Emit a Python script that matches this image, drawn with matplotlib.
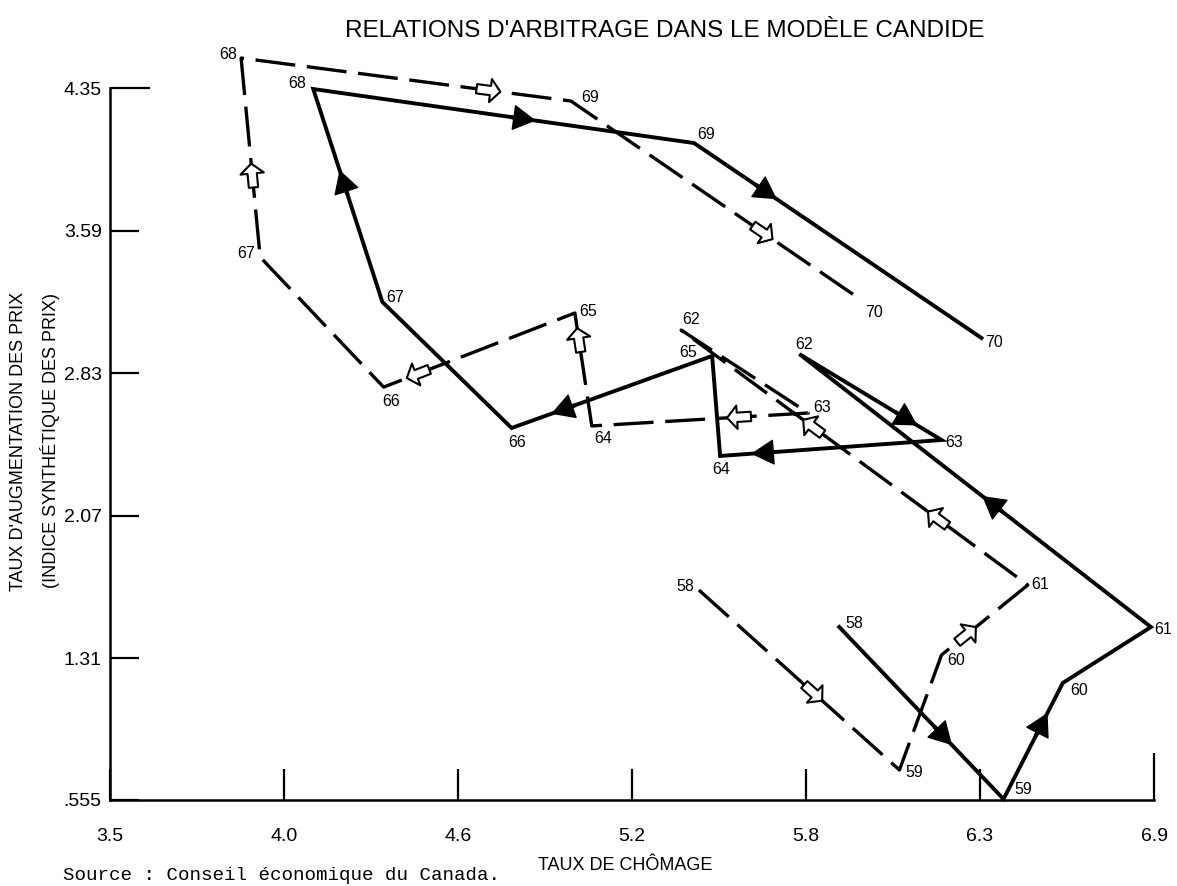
import numpy as np
import matplotlib
matplotlib.use("Agg")
import matplotlib.pyplot as plt
from matplotlib.patches import FancyArrowPatch

police = "Liberation Sans"

annees = ["58", "59", "60", "61", "62", "63", "64", "65", "66", "67", "68", "69", "70"]

# trait plein (fleches noires)
chom_plein = [5.875, 6.410, 6.603, 6.890, 5.745, 6.208, 5.487, 5.461, 4.808, 4.387, 4.162, 5.402, 6.338]
prix_plein = [1.477, 0.560, 1.179, 1.477, 2.932, 2.474, 2.389, 2.922, 2.538, 3.210, 4.345, 4.057, 3.018]

# tirets (fleches blanches)
chom_tirets = [5.418, 6.071, 6.208, 6.489, 5.360, 5.774, 5.069, 5.014, 4.391, 3.989, 3.927, 5.001, 5.947]
prix_tirets = [1.674, 0.715, 1.328, 1.701, 3.060, 2.618, 2.549, 3.151, 2.756, 3.449, 4.510, 4.281, 3.220]

# fleches : (segment, position le long du segment)
fleches_plein = [(0, 0.63), (1, 0.64), (3, 0.45), (4, 0.75), (5, 0.80), (7, 0.74), (9, 0.56), (10, 0.55), (11, 0.25)]
fleches_tirets = [(0, 0.57), (2, 0.29), (3, 0.26), (3, 0.62), (5, 0.32), (6, 0.76), (7, 0.82), (9, 0.41), (10, 0.75), (11, 0.66)]

# decalage des etiquettes (pixels, y vers le bas)
decal_plein = [(15, -4), (20, -10), (16, 8), (12, 2), (5, -10), (13, 2), (1, 14), (-24, -3), (5, 14), (13, -4), (-16, -6), (12, -9), (13, 5)]
decal_tirets = [(-14, -4), (15, 3), (15, 6), (12, -1), (10, -11), (14, -5), (11, 13), (13, -2), (8, 14), (-14, -4), (-13, -4), (19, -4), (13, 12)]

yticks = [0.555, 1.31, 2.07, 2.83, 3.59, 4.35]
ytick_labels = [".555", "1.31", "2.07", "2.83", "3.59", "4.35"]
xticks = np.linspace(3.5, 6.9, 7)
xtick_labels = ["3.5", "4.0", "4.6", "5.2", "5.8", "6.3", "6.9"]

fig = plt.figure(figsize=(11.77, 8.86), dpi=100)
ax = fig.add_axes([110 / 1177, 1 - 800 / 886, 1044 / 1177, 750 / 886])
ax.set_xlim(3.5, 6.9)
ax.set_ylim(0.555, 4.553)

ax.plot(chom_plein, prix_plein, color="black", lw=2.8, solid_joinstyle="miter", zorder=3, clip_on=False)
ax.plot(chom_tirets, prix_tirets, color="black", lw=2.4, linestyle=(0, (12, 3.5)),
        dash_capstyle="butt", zorder=3, clip_on=False)


def fleche(xs, ys, i, t, pleine, L=24):
    d0 = ax.transData.transform((xs[i], ys[i]))
    d1 = ax.transData.transform((xs[i + 1], ys[i + 1]))
    v = d1 - d0
    u = v / np.hypot(*v)
    c = d0 + t * v
    inv = ax.transData.inverted()
    a = inv.transform(c - u * L / 2)
    b = inv.transform(c + u * L / 2)
    if pleine:
        style = "simple,head_length=0.75,head_width=0.85,tail_width=0.1"
        p = FancyArrowPatch(a, b, arrowstyle=style, mutation_scale=20, fc="black", ec="black",
                            lw=1, shrinkA=0, shrinkB=0, zorder=5, clip_on=False)
    else:
        style = "simple,head_length=0.45,head_width=1.05,tail_width=0.42"
        p = FancyArrowPatch(a, b, arrowstyle=style, mutation_scale=16, fc="white", ec="black",
                            lw=1.5, shrinkA=0, shrinkB=0, zorder=5, clip_on=False)
    ax.add_patch(p)


for i, t in fleches_plein:
    fleche(chom_plein, prix_plein, i, t, True)
for i, t in fleches_tirets:
    fleche(chom_tirets, prix_tirets, i, t, False)

for k, a in enumerate(annees):
    dx, dy = decal_plein[k]
    ax.annotate(a, (chom_plein[k], prix_plein[k]), xytext=(dx, -dy), textcoords="offset pixels",
                ha="center", va="center", fontsize=11.5, family=police, annotation_clip=False)
    dx, dy = decal_tirets[k]
    ax.annotate(a, (chom_tirets[k], prix_tirets[k]), xytext=(dx, -dy), textcoords="offset pixels",
                ha="center", va="center", fontsize=11.5, family=police, annotation_clip=False)

# axes
ax.spines["top"].set_visible(False)
ax.spines["right"].set_visible(False)
ax.spines["left"].set_linewidth(1.8)
ax.spines["bottom"].set_linewidth(1.8)
ax.spines["left"].set_bounds(0.555, 4.35)

ax.set_yticks(yticks)
ax.set_yticklabels(ytick_labels, family=police, fontsize=14)
ax.set_xticks(xticks)
ax.set_xticklabels(xtick_labels, family=police, fontsize=14)
ax.tick_params(axis="x", direction="in", length=22, width=1.6, pad=20)
ax.tick_params(axis="y", direction="in", length=21, width=1.6, pad=6)
ax.xaxis.get_major_ticks()[-1].tick1line.set_markersize(34)
ax.yaxis.get_major_ticks()[-1].tick1line.set_markersize(29)

fig.text(665 / 1177, 1 - 31 / 886, "RELATIONS D'ARBITRAGE DANS LE MODÈLE CANDIDE",
         ha="center", va="center", family=police, fontsize=17.5)
fig.text(19 / 1177, 1 - 441 / 886, "TAUX D'AUGMENTATION DES PRIX", rotation=90,
         ha="center", va="center", family=police, fontsize=13)
fig.text(50 / 1177, 1 - 441 / 886, "(INDICE SYNTHÉTIQUE DES PRIX)", rotation=90,
         ha="center", va="center", family=police, fontsize=13)
fig.text(625 / 1177, 1 - 865 / 886, "TAUX DE CHÔMAGE", ha="center", va="center",
         family=police, fontsize=13)
fig.text(63 / 1177, 1 - 876 / 886, "Source : Conseil économique du Canada.", ha="left", va="center",
         family="Liberation Mono", fontsize=13.8)

fig.savefig("out.png", dpi=100)
plt.close()
